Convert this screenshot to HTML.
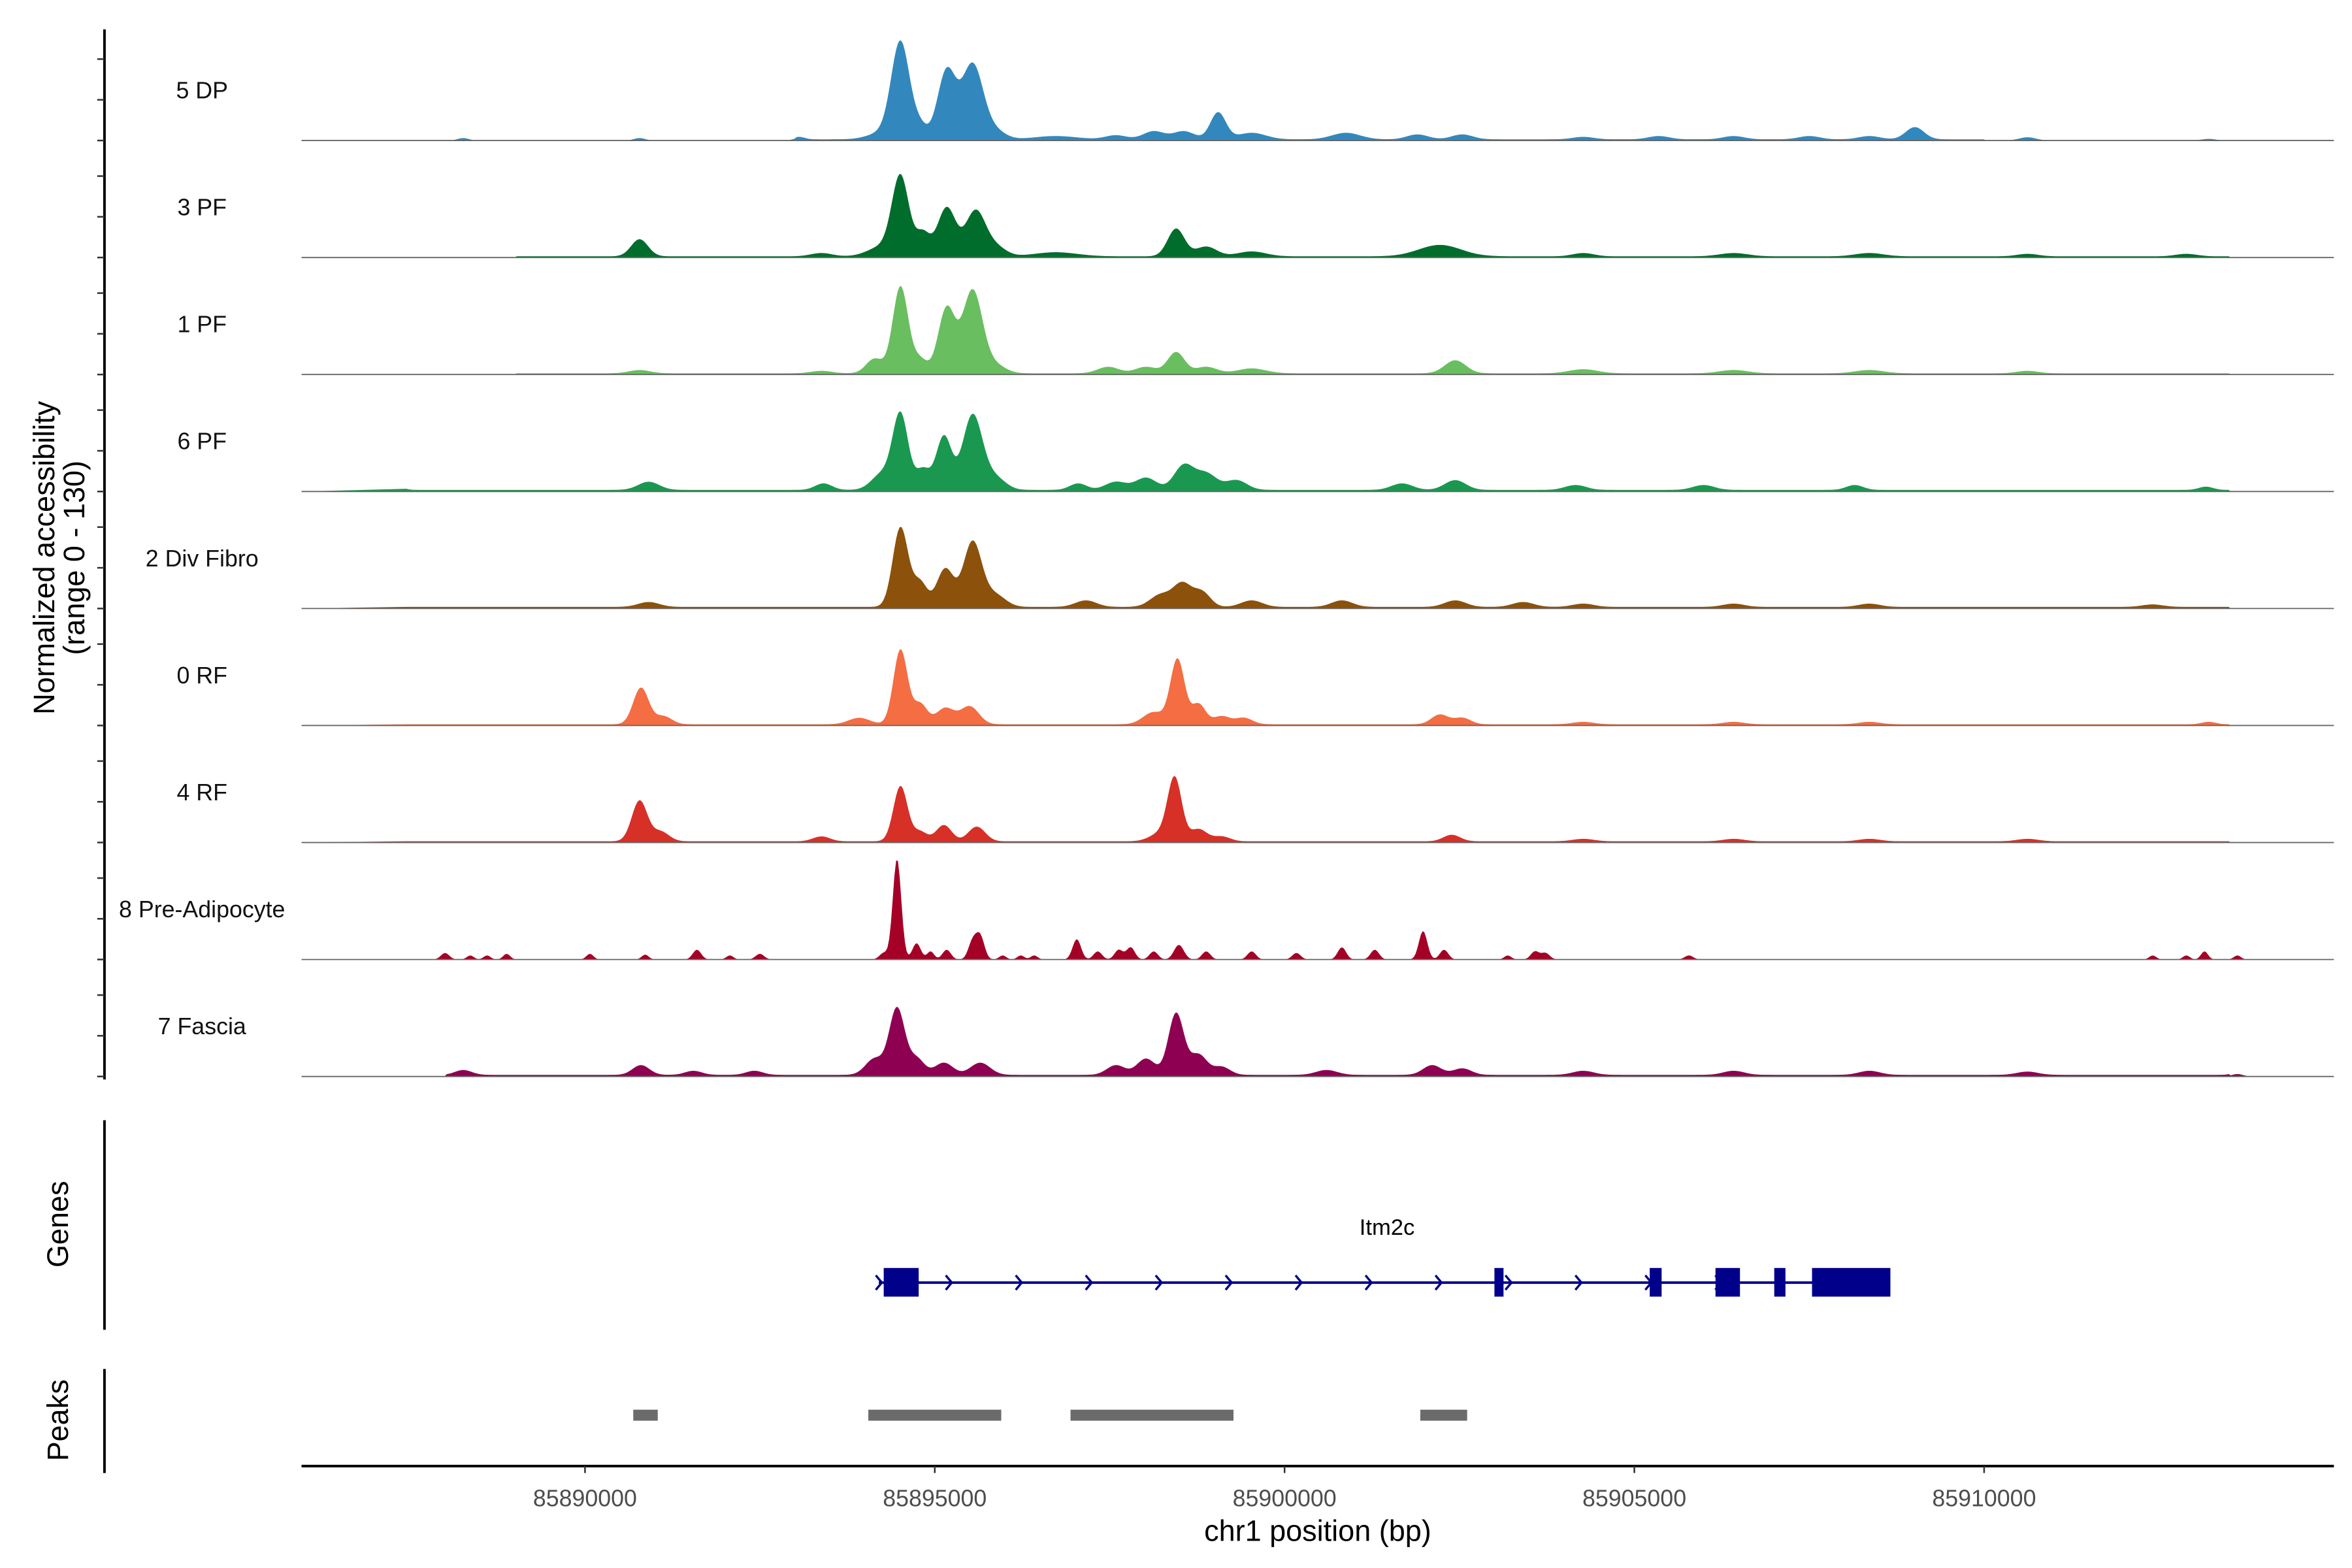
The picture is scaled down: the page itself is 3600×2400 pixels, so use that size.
<!DOCTYPE html>
<html><head><meta charset="utf-8"><title>Itm2c coverage</title>
<style>
html,body{margin:0;padding:0;background:#fff;}
svg{display:block;}
text{font-family:"Liberation Sans",Arial,sans-serif;}
</style></head>
<body>
<svg id="chart" width="3600" height="2400" viewBox="0 0 1560 1040" xmlns="http://www.w3.org/2000/svg">
<g id="tracks"></g>
<g id="axes"></g>
<g id="genes"></g>
<g id="peaks"></g>
</svg>
<script>
// ---- data ----
const trackNames = ["5 DP","3 PF","1 PF","6 PF","2 Div Fibro","0 RF","4 RF","8 Pre-Adipocyte","7 Fascia"];
const trackColors = ["#3288bd","#006d2c","#69be5f","#1a9850","#8c510a","#f46d43","#d73027","#a50026","#8e0152"];
// peaks: [position kb, height (0-130), sigma bp]
const peaks5DP = [[85888.26,3,80],[85890.78,3,80],[85893.06,3,80],[85894.25,8,200],[85894.51,118,130],[85894.79,15,100],[85895.17,84,130],[85895.54,92,150],[85895.86,10,150],[85896.73,4,300],[85897.59,5,150],[85898.13,10,150],[85898.56,10,150],[85899.05,33,110],[85899.53,8,200],[85900.88,8,200],[85901.90,6,150],[85902.54,6,150],[85904.27,3,150],[85905.35,4,150],[85906.42,4,150],[85907.50,4,150],[85908.36,4,150],[85909.01,15,130],[85910.62,4,120],[85913.21,2,100]];
const peaks3PF = [[85890.78,21,120],[85893.38,4,150],[85894.25,12,200],[85894.51,96,120],[85894.83,28,100],[85895.17,60,130],[85895.58,55,140],[85895.86,12,150],[85896.73,5,300],[85898.45,34,120],[85898.88,12,150],[85899.53,6,200],[85902.22,14,300],[85904.27,4,150],[85906.42,4,200],[85908.36,4,200],[85910.62,3,150],[85912.89,3,150]];
const peaks1PF = [[85890.78,4,150],[85893.38,3,150],[85894.14,18,120],[85894.51,107,110],[85894.79,17,100],[85895.17,80,120],[85895.54,102,140],[85895.86,10,150],[85897.48,8,150],[85898.02,8,150],[85898.45,26,120],[85898.88,8,150],[85899.53,6,200],[85902.44,16,150],[85904.27,5,200],[85906.42,4,200],[85908.36,4,200],[85910.62,3,150]];
const peaks6PF = [[85887.33,4,80],[85890.91,10,150],[85893.41,8,120],[85894.25,20,150],[85894.51,92,110],[85894.83,25,100],[85895.13,66,110],[85895.54,92,140],[85895.86,15,150],[85897.05,8,120],[85897.59,10,150],[85898.02,15,150],[85898.56,30,140],[85898.88,20,150],[85899.31,12,150],[85901.68,8,150],[85902.44,12,150],[85904.16,6,150],[85905.99,6,150],[85908.15,6,120],[85913.17,4,100]];
const peaksDiv = [[85890.91,6,150],[85894.51,98,110],[85894.79,30,100],[85895.15,47,120],[85895.54,80,130],[85895.86,15,150],[85897.16,8,150],[85898.23,15,150],[85898.54,28,130],[85898.82,18,120],[85899.53,8,150],[85900.82,8,150],[85902.44,8,150],[85903.41,6,150],[85904.27,4,150],[85906.42,4,150],[85908.36,4,150],[85912.41,3,150]];
const peaks0RF = [[85890.80,45,110],[85891.12,10,120],[85893.92,8,150],[85894.51,92,100],[85894.79,25,100],[85895.15,20,130],[85895.50,22,130],[85898.13,15,150],[85898.47,80,100],[85898.77,25,100],[85899.10,10,120],[85899.42,8,120],[85902.22,12,120],[85902.54,8,120],[85904.27,3,150],[85906.42,3,150],[85908.36,3,150],[85913.21,3,100]];
const peaks4RF = [[85890.78,50,110],[85891.08,12,120],[85893.38,6,120],[85894.51,68,100],[85894.79,12,100],[85895.13,20,110],[85895.60,18,120],[85898.23,10,150],[85898.43,76,100],[85898.77,15,120],[85899.10,6,120],[85902.39,8,120],[85904.27,3,150],[85906.42,3,150],[85908.36,3,150],[85910.62,3,150]];
const peaksPreAd = [[85888.00,8,60],[85888.36,5,50],[85888.60,5,50],[85888.88,7,50],[85890.07,7,50],[85890.86,6,50],[85891.60,12,60],[85892.07,5,50],[85892.50,7,60],[85894.27,8,60],[85894.46,124,60],[85894.74,20,60],[85894.94,10,50],[85895.17,12,60],[85895.54,22,60],[85895.65,28,60],[85895.97,5,50],[85896.23,5,50],[85896.42,5,50],[85897.03,25,60],[85897.33,10,60],[85897.63,12,60],[85897.80,15,60],[85898.13,10,60],[85898.49,18,70],[85898.88,10,60],[85899.53,10,60],[85900.17,8,60],[85900.82,15,60],[85901.29,12,60],[85901.98,35,60],[85902.28,12,60],[85903.19,5,50],[85903.58,10,60],[85903.73,8,60],[85905.78,5,60],[85912.41,5,50],[85912.89,5,50],[85913.15,10,50],[85913.62,5,50]];
const peaksFascia = [[85888.26,6,120],[85890.80,12,120],[85891.55,5,120],[85892.42,5,120],[85894.14,20,130],[85894.46,82,110],[85894.74,20,110],[85895.13,15,130],[85895.65,15,140],[85897.59,12,130],[85898.02,20,130],[85898.45,76,110],[85898.77,25,120],[85899.10,10,120],[85900.60,6,150],[85902.11,12,130],[85902.54,8,130],[85904.27,5,150],[85906.42,5,150],[85908.36,5,150],[85910.62,4,150],[85913.62,3,80]];
const trackPeaks = [peaks5DP,peaks3PF,peaks1PF,peaks6PF,peaksDiv,peaks0RF,peaks4RF,peaksPreAd,peaksFascia];
// background floor: [start kb, end kb, level]
const trackFloors = [[85893.0,85910.0,1.5],[85889.0,85913.5,1.5],[85889.0,85913.5,1.5],[85887.0,85913.5,2],[85887.0,85913.5,2],[85887.0,85913.5,1.5],[85887.0,85913.5,1.5],[0,0,0],[85888.0,85913.5,2]];
const xTicks = [85890000,85895000,85900000,85905000,85910000];
const yTickValues = [0,50,100];
const geneExons = [[85894270,85894770],[85903000,85903130],[85905220,85905390],[85906160,85906510],[85907000,85907160],[85907540,85908660]];
const geneSpan = [85894200,85908660];
const peakRegions = [[85890690,85891040],[85894050,85895950],[85896940,85899270],[85901940,85902610]];

// ---- scales ----
const X0 = 200, X1 = 1548, BP0 = 85885948, BP1 = 85915000;
const xs = bp => X0 + (bp - BP0) / (BP1 - BP0) * (X1 - X0);
const TRACK_B0 = 93.2, TRACK_STEP = 77.6, YPX = 0.54;
const ys = (i, v) => TRACK_B0 + i * TRACK_STEP - Math.min(v, 130) * YPX;
const NS = "http://www.w3.org/2000/svg";
function mk(tag, attrs, parent) { const e = document.createElementNS(NS, tag); for (const k in attrs) e.setAttribute(k, attrs[k]); parent.appendChild(e); return e; }

// ---- tracks ----
const tg = document.getElementById('tracks');
const BIN = 25;
trackNames.forEach((name, i) => {
  const pk = trackPeaks[i], fl = trackFloors[i];
  let d = "M" + xs(BP0).toFixed(2) + "," + ys(i, 0).toFixed(2);
  for (let bp = BP0 + 1500; bp <= BP1 - 1000; bp += BIN) {
    let v = (bp / 1000 >= fl[0] && bp / 1000 <= fl[1]) ? fl[2] : 0;
    for (const p of pk) { const dd = (bp - p[0] * 1000) / p[2]; if (Math.abs(dd) < 4) v += p[1] * Math.exp(-0.5 * dd * dd); }
    d += "L" + xs(bp).toFixed(2) + "," + ys(i, v).toFixed(2);
  }
  d += "L" + xs(BP1).toFixed(2) + "," + ys(i, 0).toFixed(2) + "Z";
  const area = mk('path', {d: d, fill: trackColors[i]}, tg);
  
  
  const base = mk('line', {x1: X0, x2: X1, y1: ys(i, 0), y2: ys(i, 0), stroke: '#666', 'stroke-width': 0.8}, tg);
  
  
  const lab = mk('text', {x: 134, y: ys(i, 0) - 28, 'text-anchor': 'middle', 'font-size': 15.5, fill: '#111'}, tg);
  lab.textContent = name;
  
  
});

// ---- axes ----
const ag = document.getElementById('axes');
const yAxis = mk('line', {x1: 69.3, x2: 69.3, y1: 19.5, y2: 716, stroke: '#000', 'stroke-width': 1.7}, ag);


trackNames.forEach((n, i) => {
  yTickValues.forEach(v => {
    const t = mk('line', {x1: 64.5, x2: 69.3, y1: ys(i, v), y2: ys(i, v), stroke: '#333', 'stroke-width': 1.1}, ag);
    
    
  });
});
const yTitle = mk('text', {transform: 'translate(36,370) rotate(-90)', 'text-anchor': 'middle', 'font-size': 19.5, fill: '#000'}, ag);
yTitle.textContent = 'Normalized accessibility';


const yTitle2 = mk('text', {transform: 'translate(56,370) rotate(-90)', 'text-anchor': 'middle', 'font-size': 19.5, fill: '#000'}, ag);
yTitle2.textContent = '(range 0 - 130)';


const xAxis = mk('line', {x1: X0, x2: X1, y1: 972.4, y2: 972.4, stroke: '#000', 'stroke-width': 1.7}, ag);


xTicks.forEach(v => {
  const t = mk('line', {x1: xs(v), x2: xs(v), y1: 972.4, y2: 977, stroke: '#333', 'stroke-width': 1.1}, ag);
  
  
  const l = mk('text', {x: xs(v), y: 999, 'text-anchor': 'middle', 'font-size': 15.5, fill: '#4d4d4d'}, ag);
  l.textContent = String(v);
  
  
});
const xTitle = mk('text', {x: 874, y: 1022, 'text-anchor': 'middle', 'font-size': 19.5, fill: '#000'}, ag);
xTitle.textContent = 'chr1 position (bp)';



// ---- genes ----
const gg = document.getElementById('genes');
const gAxis = mk('line', {x1: 69.3, x2: 69.3, y1: 743, y2: 882, stroke: '#000', 'stroke-width': 1.7}, gg);


const gTitle = mk('text', {transform: 'translate(45,812) rotate(-90)', 'text-anchor': 'middle', 'font-size': 19.5, fill: '#000'}, gg);
gTitle.textContent = 'Genes';


const GY = 850.7;
const gLine = mk('line', {x1: xs(geneSpan[0]), x2: xs(geneSpan[1]), y1: GY, y2: GY, stroke: '#00008b', 'stroke-width': 1.7}, gg);


for (let bp = geneSpan[0]; bp < geneSpan[1] - 2000; bp += 1000) {
  const x = xs(bp);
  const c = mk('polyline', {points: (x - 2) + ',' + (GY - 4.8) + ' ' + (x + 2) + ',' + GY + ' ' + (x - 2) + ',' + (GY + 4.8), fill: 'none', stroke: '#00008b', 'stroke-width': 1.5}, gg);
  
  
}
geneExons.forEach(e => {
  const r = mk('rect', {x: xs(e[0]), y: 841, width: xs(e[1]) - xs(e[0]), height: 19, fill: '#00008b'}, gg);
  
  
});
const gName = mk('text', {x: 920, y: 819, 'text-anchor': 'middle', 'font-size': 15, fill: '#000'}, gg);
gName.textContent = 'Itm2c';



// ---- peaks ----
const pg = document.getElementById('peaks');
const pAxis = mk('line', {x1: 69.3, x2: 69.3, y1: 908, y2: 977, stroke: '#000', 'stroke-width': 1.7}, pg);


const pTitle = mk('text', {transform: 'translate(45,942) rotate(-90)', 'text-anchor': 'middle', 'font-size': 19.5, fill: '#000'}, pg);
pTitle.textContent = 'Peaks';


peakRegions.forEach(p => {
  const r = mk('rect', {x: xs(p[0]), y: 935, width: xs(p[1]) - xs(p[0]), height: 7.3, fill: '#6b6b6b'}, pg);
  
  
});
</script>
</body></html>
